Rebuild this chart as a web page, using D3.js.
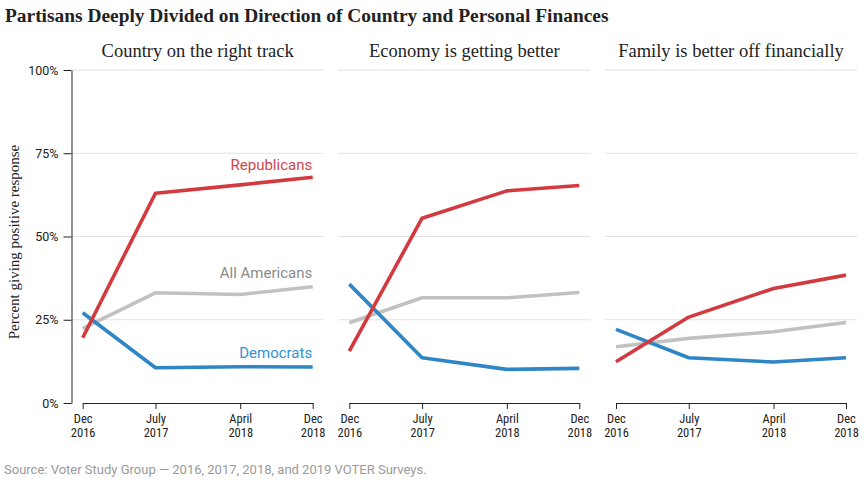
<!DOCTYPE html>
<html>
<head>
<meta charset="utf-8">
<script src="https://cdn.jsdelivr.net/npm/d3@7"></script>
<style>
  html, body { margin: 0; padding: 0; background: #fff; }
  svg { display: block; }
</style>
</head>
<body>
<svg id="chart" width="864" height="484"></svg>
<script>
// ---------- data ----------
const panelTitles = ["Country on the right track", "Economy is getting better", "Family is better off financially"];
const surveyDates = ["2016-12-01", "2017-07-20", "2018-04-15", "2018-12-01"];
const tickMonths = ["Dec", "July", "April", "Dec"];
const tickYears = ["2016", "2017", "2018", "2018"];
const seriesNames = ["All Americans", "Democrats", "Republicans"];
const allAmericans = [
  [22.4, 33.1, 32.6, 34.9],
  [24.1, 31.6, 31.6, 33.2],
  [16.9, 19.4, 21.4, 24.2]
];
const democrats = [
  [27.1, 10.6, 10.9, 10.8],
  [35.7, 13.6, 10.1, 10.4],
  [22.1, 13.6, 12.3, 13.6]
];
const republicans = [
  [19.6, 63.0, 65.5, 67.8],
  [15.6, 55.5, 63.7, 65.3],
  [12.4, 25.8, 34.4, 38.4]
];
const yTicks = [0, 25, 50, 75, 100];

// ---------- style ----------
const lineColors = { "All Americans": "#c1c1c1", "Democrats": "#2f86c6", "Republicans": "#d33a40" };
const labelColors = { "All Americans": "#8a8a8a", "Democrats": "#3590d2", "Republicans": "#d2474d" };
const seriesData = { "All Americans": allAmericans, "Democrats": democrats, "Republicans": republicans };

const svg = d3.select("#chart");
const parse = d3.timeParse("%Y-%m-%d");
const dates = surveyDates.map(parse);

const y = d3.scaleLinear().domain([0, 100]).range([403, 70]);
const panelX0 = [82.7, 349.3, 616];
const panelW = 230;
const gridPad = 11;

// Title
svg.append("text")
  .attr("x", 5).attr("y", 22)
  .attr("font-family", "'Liberation Serif', 'DejaVu Serif', serif")
  .attr("font-weight", "bold")
  .attr("font-size", 19.4)
  .attr("fill", "#222")
  .text("Partisans Deeply Divided on Direction of Country and Personal Finances");

// Y axis title
svg.append("text")
  .attr("transform", "translate(19,242) rotate(-90)")
  .attr("text-anchor", "middle")
  .attr("font-family", "'Liberation Serif', 'DejaVu Serif', serif")
  .attr("font-size", 15)
  .attr("fill", "#222")
  .text("Percent giving positive response");

panelX0.forEach((x0, p) => {
  const x = d3.scaleTime().domain([dates[0], dates[3]]).range([x0, x0 + panelW]);
  const g = svg.append("g");

  // gridlines
  g.selectAll("line.grid").data(yTicks.filter(t => t > 0)).join("line")
    .attr("class", "grid")
    .attr("x1", x0 - gridPad).attr("x2", x0 + panelW + gridPad)
    .attr("y1", d => y(d)).attr("y2", d => y(d))
    .attr("stroke", "#e2e2e2").attr("stroke-width", 1);

  // panel title
  g.append("text")
    .attr("x", x0 + panelW / 2).attr("y", 57)
    .attr("text-anchor", "middle")
    .attr("font-family", "'Liberation Serif', 'DejaVu Serif', serif")
    .attr("font-size", 18.5)
    .attr("fill", "#222")
    .text(panelTitles[p]);

  // x axis
  const xAxis = d3.axisBottom(x)
    .tickValues(dates)
    .tickSize(6)
    .tickSizeOuter(0)
    .tickFormat(() => "");
  const ax = g.append("g").attr("transform", `translate(0,${y(0)})`).call(xAxis);
  ax.select(".domain").attr("stroke", "#222");
  ax.selectAll(".tick line").attr("stroke", "#222");
  ax.selectAll(".tick text").remove();
  ax.selectAll(".tick").each(function(d, i) {
    const t = d3.select(this).append("text")
      .attr("text-anchor", "middle")
      .attr("font-family", "'Liberation Sans Narrow', 'Roboto Condensed', 'Roboto', sans-serif")
      .attr("font-size", 12.5)
      .attr("fill", "#222");
    t.append("tspan").attr("x", 0).attr("y", 20).text(tickMonths[i]);
    t.append("tspan").attr("x", 0).attr("y", 33.5).text(tickYears[i]);
  });

  // lines
  const line = d3.line().x((d, i) => x(dates[i])).y(d => y(d));
  seriesNames.forEach(name => {
    g.append("path")
      .datum(seriesData[name][p])
      .attr("d", line)
      .attr("fill", "none")
      .attr("stroke", lineColors[name])
      .attr("stroke-width", 3.6)
      .attr("stroke-linejoin", "round");
  });

  // series labels (only first panel)
  if (p === 0) {
    const labelY = { "Republicans": 71.5, "All Americans": 39.2, "Democrats": 15.2 };
    seriesNames.forEach(name => {
      g.append("text")
        .attr("x", x0 + panelW - 0.5)
        .attr("y", y(labelY[name]))
        .attr("dy", "0.35em")
        .attr("text-anchor", "end")
        .attr("font-family", "Roboto, sans-serif")
        .attr("font-size", 15)
        .attr("fill", labelColors[name])
        .text(name);
    });
  }
});

// Y axis (first panel)
const yAxis = d3.axisLeft(y)
  .tickValues(yTicks)
  .tickSize(8)
  .tickSizeOuter(0)
  .tickPadding(5)
  .tickFormat(d => d + "%");
const yg = svg.append("g").attr("transform", "translate(71.5,0)").call(yAxis);
yg.select(".domain").attr("stroke", "#222");
yg.selectAll(".tick line").attr("stroke", "#222");
yg.selectAll(".tick text")
  .attr("font-family", "Roboto, sans-serif")
  .attr("font-size", 12.5)
  .attr("fill", "#222");

// Source
svg.append("text")
  .attr("x", 4).attr("y", 474)
  .attr("font-family", "Roboto, sans-serif")
  .attr("font-size", 13)
  .attr("fill", "#9a9a9a")
  .text("Source: Voter Study Group \u2014 2016, 2017, 2018, and 2019 VOTER Surveys.");
</script>
</body>
</html>
